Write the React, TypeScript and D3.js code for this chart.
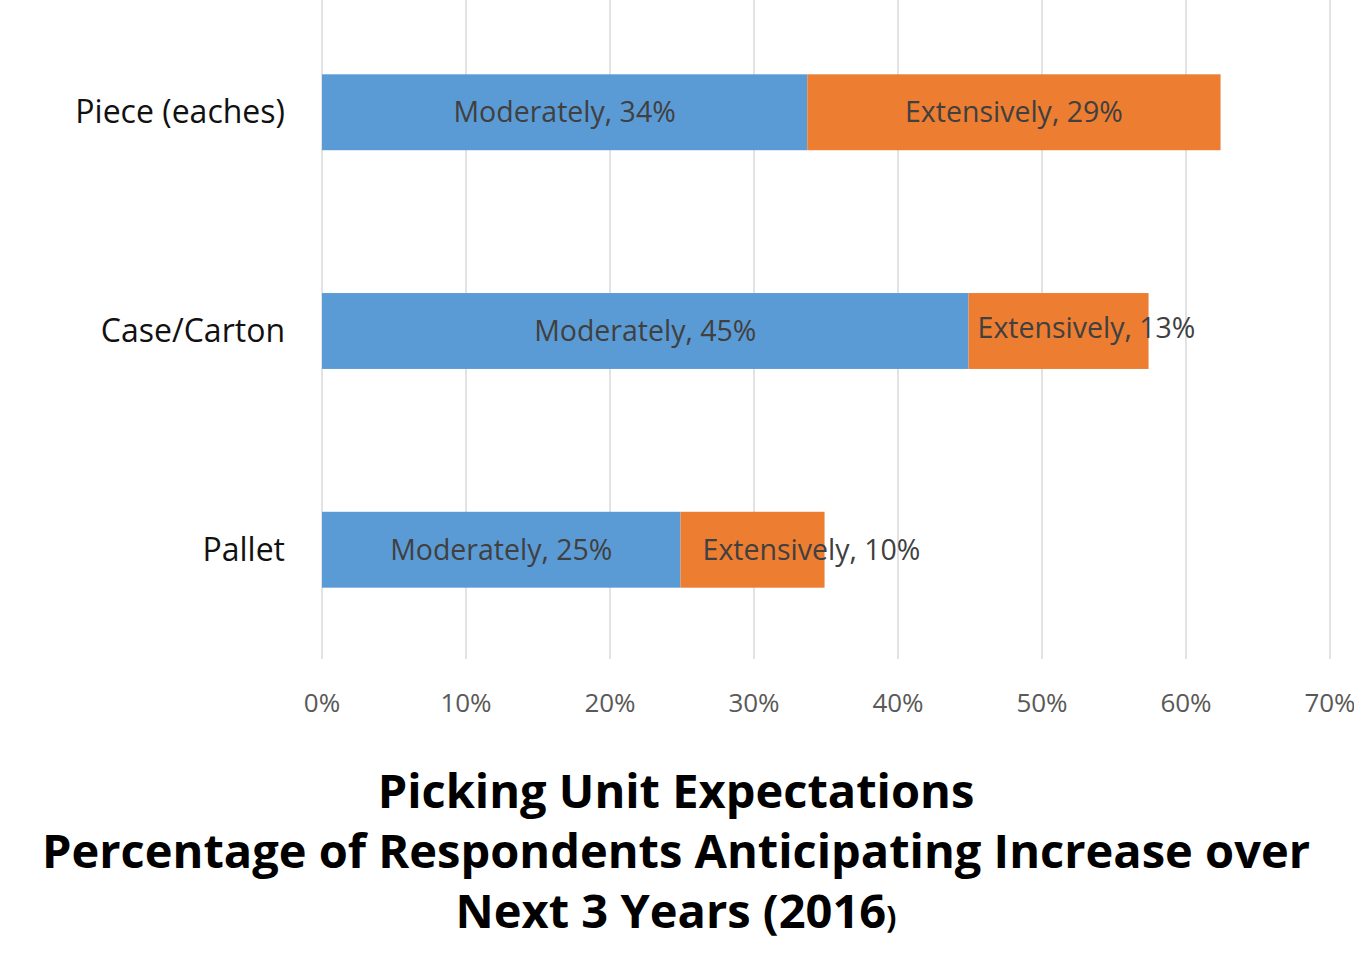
import React from 'react';
import * as d3 from 'd3';

const categories = ['Piece (eaches)', 'Case/Carton', 'Pallet'];
const moderately = [33.7, 44.9, 24.9];
const extensively = [28.7, 12.5, 10.0];
const modLabels = ['Moderately, 34%', 'Moderately, 45%', 'Moderately, 25%'];
const extLabels = ['Extensively, 29%', 'Extensively, 13%', 'Extensively, 10%'];
const ticks = [0, 10, 20, 30, 40, 50, 60, 70];

const App: React.FC = () => {
  const x = d3.scaleLinear().domain([0, 70]).range([322, 1330]);
  const y = d3.scaleBand<string>().domain(categories).range([3, 659]).paddingInner(0.653).paddingOuter(0.326);
  const font = '"Open Sans", "Noto Sans", sans-serif';

  return (
    <svg width={1354} height={970} style={{ position: 'absolute', left: 0, top: 0, background: '#fff' }} fontFamily={font}>
      {ticks.map((t) => (
        <g key={t}>
          <line x1={x(t)} x2={x(t)} y1={0} y2={659} stroke="#d9d9d9" strokeWidth={1.5} />
          <text x={x(t)} y={712} textAnchor="middle" fontSize={26} fill="#595959">{t}%</text>
        </g>
      ))}
      {categories.map((c, i) => {
        const y0 = y(c)!;
        const bh = y.bandwidth();
        const cy = y0 + bh / 2;
        const m = moderately[i];
        const e = extensively[i];
        const narrow = i > 0;
        const extX = narrow ? x(m) + (i === 1 ? 9 : 22) : (x(m) + x(m + e)) / 2;
        return (
          <g key={c}>
            <text x={285} y={cy} dy="0.35em" textAnchor="end" fontSize={32} fill="#111">{c}</text>
            <rect x={x(0)} y={y0} width={x(m) - x(0)} height={bh} fill="#5B9BD5" />
            <rect x={x(m)} y={y0} width={x(m + e) - x(m)} height={bh} fill="#ED7D31" />
            <text x={(x(0) + x(m)) / 2} y={cy} dy="0.35em" textAnchor="middle" fontSize={28.5} fill="#404040">{modLabels[i]}</text>
            <text x={extX} y={cy - (i === 1 ? 3 : 0)} dy="0.35em" textAnchor={narrow ? 'start' : 'middle'} fontSize={28.5} fill="#404040">{extLabels[i]}</text>
          </g>
        );
      })}
      <g fontWeight="bold" fontSize={47} textAnchor="middle" fill="#000">
        <text x={676} y={808}>Picking Unit Expectations</text>
        <text x={676} y={868}>Percentage of Respondents Anticipating Increase over</text>
        <text x={676} y={928}>Next 3 Years (2016<tspan fontSize={30}>)</tspan></text>
      </g>
    </svg>
  );
};

export default App;
